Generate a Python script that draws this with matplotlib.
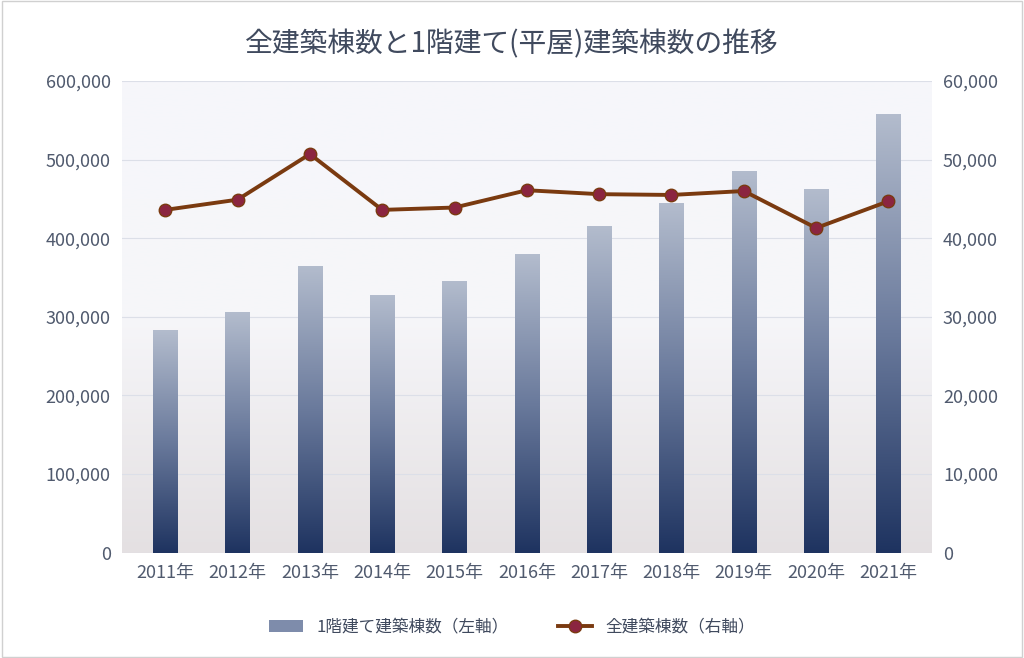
import matplotlib
matplotlib.use("Agg")
import matplotlib.pyplot as plt
import numpy as np
from matplotlib.colors import LinearSegmentedColormap
from matplotlib.patches import Patch, Rectangle
from matplotlib.lines import Line2D

plt.rcParams['font.family'] = ['Noto Sans CJK JP', 'DejaVu Sans']

years = ['2011年','2012年','2013年','2014年','2015年','2016年','2017年','2018年','2019年','2020年','2021年']
one_story = [283000, 306000, 365000, 328000, 346000, 380000, 415000, 445000, 486000, 463000, 558000]
total = [43600, 44900, 50700, 43600, 43900, 46100, 45600, 45500, 46000, 41300, 44700]

fig = plt.figure(figsize=(10.24, 6.58), dpi=100)
fig.patch.set_facecolor('#ffffff')
fig.add_artist(Rectangle((0.002, 0.002), 0.996, 0.996, transform=fig.transFigure,
                         fill=False, edgecolor='#d0d0d0', lw=1))
ax = fig.add_axes([0.119, 0.160, 0.791, 0.717])
ax2 = ax.twinx()

bg = LinearSegmentedColormap.from_list('bg', ['#e4e0e2', '#f6f6f9', '#f6f7fb'])
ax.imshow(np.linspace(0, 1, 256).reshape(-1, 1), cmap=bg, aspect='auto',
          extent=[-0.6, 10.6, 0, 600000], origin='lower', zorder=0)

x = np.arange(len(years))
cmap = LinearSegmentedColormap.from_list('bar', ['#1e3360', '#6a7a9c', '#b3bccd'])
bars = ax.bar(x, one_story, width=0.34, color='none', zorder=2)
for b in bars:
    im = ax.imshow(np.linspace(0, 1, 256).reshape(-1, 1), cmap=cmap, aspect='auto',
                   extent=[b.get_x(), b.get_x() + b.get_width(), 0, b.get_height()],
                   origin='lower', zorder=2)
    im.set_clip_path(b)

ax.set_xlim(-0.6, 10.6)
ax.set_ylim(0, 600000)
ax.set_yticks(np.arange(0, 600001, 100000))
ax.set_yticklabels([f'{v:,}' for v in range(0, 600001, 100000)])
ax.grid(axis='y', color='#dcdfe8', lw=0.8, zorder=1)
ax.set_axisbelow(True)
ax.set_xticks(x)
ax.set_xticklabels(years)

ax2.plot(x, total, color='#7a3a10', lw=2.8, marker='o', markersize=9,
         markerfacecolor='#8b2540', markeredgecolor='#7a3a10', zorder=5)
ax2.set_ylim(0, 60000)
ax2.set_yticks(np.arange(0, 60001, 10000))
ax2.set_yticklabels([f'{v:,}' for v in range(0, 60001, 10000)])

for a in (ax, ax2):
    for s in a.spines.values():
        s.set_visible(False)
    a.tick_params(length=0, labelsize=13, colors='#505a6e', pad=8)

fig.suptitle('全建築棟数と1階建て(平屋)建築棟数の推移', y=0.955, fontsize=20, color='#404a5e')

handles = [Patch(facecolor='#7e8cab', label='1階建て建築棟数（左軸）'),
           Line2D([0], [0], color='#7a3a10', lw=2.8, marker='o', markersize=9,
                  markerfacecolor='#8b2540', label='全建築棟数（右軸）')]
fig.legend(handles=handles, loc='center', bbox_to_anchor=(0.5, 0.047), ncol=2,
           frameon=False, fontsize=12, labelcolor='#404a5e', columnspacing=3)

fig.savefig('out.png', dpi=100)
